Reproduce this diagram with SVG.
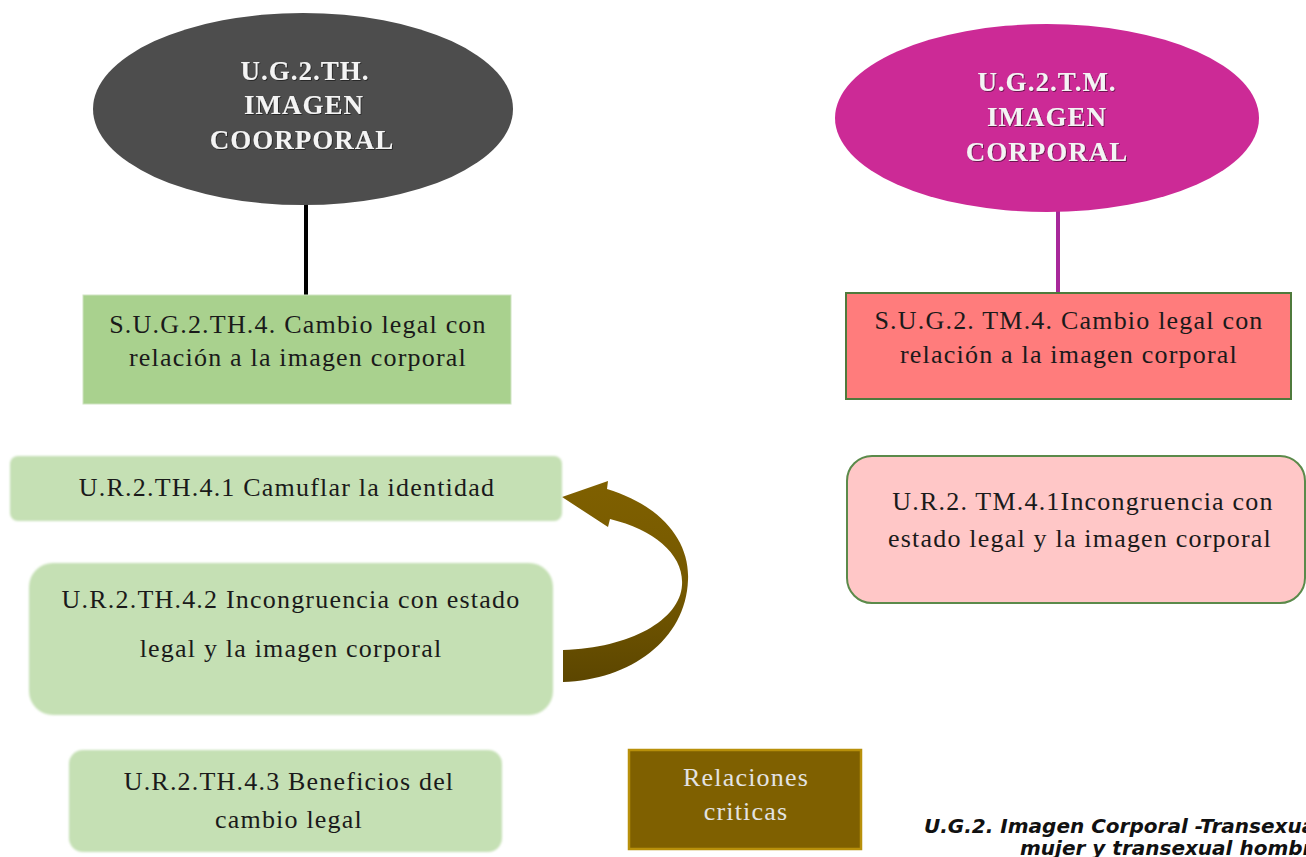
<svg xmlns="http://www.w3.org/2000/svg" width="1306" height="857" viewBox="0 0 1306 857">
<style>
.t{font-family:"Liberation Serif","Times New Roman",serif;font-size:26px;letter-spacing:1.2px;fill:#1a1a1a;text-anchor:middle}
.h{font-family:"Liberation Serif","Times New Roman",serif;font-size:27px;letter-spacing:1px;font-weight:bold;fill:#f4f4f4;text-anchor:middle}
.lg{fill:#c5e0b4;filter:url(#soft)}
.cap{font-family:"DejaVu Sans","Liberation Sans",sans-serif;font-size:20px;font-weight:bold;font-style:italic;fill:#111}
</style>
<defs>
<filter id="soft" x="-5%" y="-10%" width="110%" height="120%"><feGaussianBlur stdDeviation="1.2"/></filter>
<filter id="sh" x="-10%" y="-20%" width="120%" height="140%"><feDropShadow dx="0.8" dy="0.8" stdDeviation="0.6" flood-color="#000" flood-opacity="0.6"/></filter>
<linearGradient id="ag" x1="0" y1="0" x2="0" y2="1">
<stop offset="0" stop-color="#7f6000"/><stop offset="0.5" stop-color="#765900"/><stop offset="1" stop-color="#5c4600"/>
</linearGradient>
</defs>
<rect width="1306" height="857" fill="#fff"/>
<g id="connectors">
<line x1="306" y1="200" x2="306" y2="296" stroke="#000" stroke-width="4"/>
<line x1="1058" y1="200" x2="1058" y2="293" stroke="#a8289a" stroke-width="4"/>
<path d="M562,497 L608,481 L607,489 C660,505 690,540 688,580 C686,640 630,680 563,682 L563,650 C630,648 680,620 682,585 C684,555 655,530 610,519 L608,527 Z" fill="url(#ag)"/>
</g>
<g id="ug2th">
<ellipse cx="303" cy="109" rx="210" ry="96" fill="#4d4d4d"/>
<g class="h" filter="url(#sh)">
<text x="305" y="80">U.G.2.TH.</text>
<text x="304" y="114">IMAGEN</text>
<text x="302" y="149">COORPORAL</text>
</g>
</g>
<g id="ug2tm">
<ellipse cx="1047" cy="118" rx="212" ry="94" fill="#cc2a96"/>
<g class="h" filter="url(#sh)">
<text x="1047" y="91">U.G.2.T.M.</text>
<text x="1047" y="126">IMAGEN</text>
<text x="1047" y="161">CORPORAL</text>
</g>
</g>
<g id="sug2th4">
<rect x="83" y="295" width="428" height="109" fill="#a9d18e" stroke="#cfe3c2" stroke-width="1"/>
<text class="t" x="298" y="333">S.U.G.2.TH.4. Cambio legal con</text>
<text class="t" x="298" y="366">relación a la imagen corporal</text>
</g>
<g id="sug2tm4">
<rect x="846" y="293" width="445" height="106" fill="#ff7c7c" stroke="#4f7a3c" stroke-width="2"/>
<text class="t" x="1069" y="329">S.U.G.2. TM.4. Cambio legal con</text>
<text class="t" x="1069" y="363">relación a la imagen corporal</text>
</g>
<g id="ur2th41">
<rect class="lg" x="10" y="456" width="552" height="65" rx="8"/>
<text class="t" x="287" y="496">U.R.2.TH.4.1 Camuflar la identidad</text>
</g>
<g id="ur2th42">
<rect class="lg" x="29" y="563" width="524" height="152" rx="24"/>
<text class="t" x="291" y="608">U.R.2.TH.4.2 Incongruencia con estado</text>
<text class="t" x="291" y="657">legal y la imagen corporal</text>
</g>
<g id="ur2th43">
<rect class="lg" x="69" y="750" width="433" height="102" rx="14"/>
<text class="t" x="289" y="790">U.R.2.TH.4.3 Beneficios del</text>
<text class="t" x="289" y="828">cambio legal</text>
</g>
<g id="ur2tm41">
<rect x="847" y="456" width="458" height="147" rx="25" fill="#ffc7c7" stroke="#5b8a4a" stroke-width="2"/>
<text class="t" x="1083" y="510">U.R.2. TM.4.1Incongruencia con</text>
<text class="t" x="1080" y="547">estado legal y la imagen corporal</text>
</g>
<g id="relaciones">
<rect x="629" y="750" width="232" height="99" fill="#7f6000" stroke="#b8900a" stroke-width="2.5"/>
<text class="t" x="746" y="786" style="fill:#e3e3e3">Relaciones</text>
<text class="t" x="746" y="820" style="fill:#e3e3e3">criticas</text>
</g>
<g id="caption">
<text class="cap" x="924" y="833">U.G.2. Imagen Corporal -Transexual</text>
<text class="cap" x="1020" y="855">mujer y transexual hombre</text>
</g>
</svg>
